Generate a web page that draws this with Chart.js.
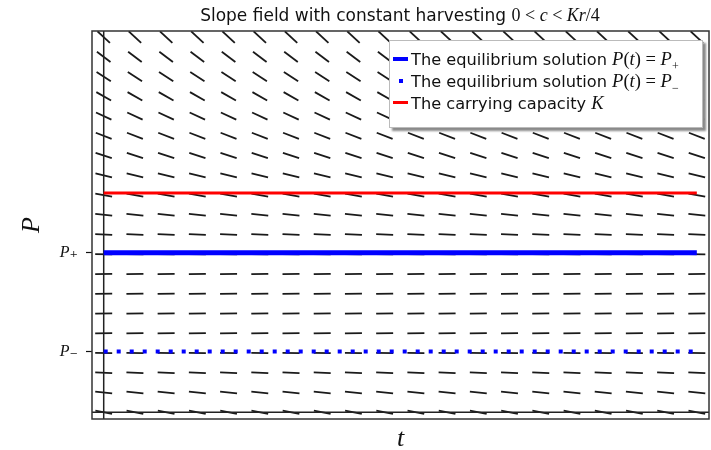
<!DOCTYPE html>
<html>
<head>
<meta charset="utf-8">
<script src="https://cdn.jsdelivr.net/npm/chart.js@4/dist/chart.umd.min.js"></script>
<style>
  html, body { margin: 0; padding: 0; background: #fff; }
  #wrap { position: relative; width: 711px; height: 450px; }
  canvas { position: absolute; left: 0; top: 0; }
  .m { font-family: "Liberation Serif", "DejaVu Serif", serif; }
  .m i { font-style: italic; }
  #title { position: absolute; left: 0; width: 800px; top: 3px; text-align: center; height: 24px; line-height: 24px;
           font-family: "DejaVu Sans", sans-serif; font-size: 17px; color: #111; white-space: nowrap; }
  #title .m { font-size: 18px; }
  #legend { position: absolute; left: 389px; top: 40px; width: 312px; height: 86px;
            background: #fff; border: 1px solid #bbb; box-shadow: 3px 3px 2px #8a8a8a;
            font-family: "DejaVu Sans", sans-serif; font-size: 16.2px; color: #111; }
  #legend .m { font-size: 18.5px; }
  .row { position: absolute; left: 0; height: 20px; line-height: 20px; white-space: nowrap; }
  .row .lbl { position: absolute; left: 21px; top: 0; }
  .h { position: absolute; left: 3px; width: 15px; }
</style>
</head>
<body>
<div id="wrap">
  <canvas id="c" width="711" height="450"></canvas>
  <div id="title">Slope field with constant harvesting <span class="m">0 &lt; <i>c</i> &lt; <i>Kr</i>/4</span></div>
  <div id="legend">
    <div class="row" style="top:8px"><div class="h" style="top:8px;height:4px;background:#0000ff"></div><span class="lbl">The equilibrium solution <span class="m"><i>P</i>(<i>t</i>) = <i>P</i><sub style="font-size:12px">+</sub></span></span></div>
    <div class="row" style="top:30px"><div class="h" style="top:8px;left:9px;width:4px;height:4px;background:#0000ff"></div><span class="lbl">The equilibrium solution <span class="m"><i>P</i>(<i>t</i>) = <i>P</i><sub style="font-size:12px">&minus;</sub></span></span></div>
    <div class="row" style="top:52px"><div class="h" style="top:8px;height:3px;background:#ff0000"></div><span class="lbl">The carrying capacity <span class="m"><i>K</i></span></span></div>
  </div>
</div>
<script>
// ---- data ----
const tValues = [0,1,2,3,4,5,6,7,8,9,10,11,12,13,14,15,16,17,18,19];
const pValues = [0,1,2,3,4,5,6,7,8,9,10,11,12,13,14,15,16,17,18,19];
// slope dP/dt at each P row (same for every t)
const slopes = [-0.31,-0.17,-0.08,-0.01,0.03,0.04,0.04,0.03,-0.01,-0.08,-0.17,-0.28,-0.39,-0.51,-0.61,-0.74,-0.91,-1.03,-1.19,-1.47];
const K = 11.1;
const Pplus = 8.08;
const Pminus = 3.07;
const tRange = [-0.375, 19.39];
const pRange = [-0.344, 19.31];
const tickLabels = { plus: 'P\u208A', minus: 'P\u208B' };

// ---- build datasets ----
const fieldPts = [];
tValues.forEach(t => pValues.forEach((p, i) => fieldPts.push({ x: t, y: p, s: slopes[i] })));
const tFirst = tValues[0], tLast = tValues[tValues.length - 1];

const framePlugin = {
  id: 'frame',
  afterDatasetsDraw(chart) {
    const { ctx, chartArea: a } = chart;
    ctx.save();
    ctx.strokeStyle = '#333';
    ctx.lineWidth = 1.5;
    ctx.strokeRect(a.left, a.top, a.right - a.left, a.bottom - a.top);
    ctx.restore();
  }
};

const chart = new Chart(document.getElementById('c'), {
  type: 'scatter',
  data: {
    datasets: [
      { label: 'P+', data: [{ x: tFirst, y: Pplus }, { x: tLast, y: Pplus }], showLine: true,
        borderColor: '#0000ff', borderWidth: 5, pointRadius: 0, order: 1 },
      { label: 'P-', data: [{ x: tFirst, y: Pminus }, { x: tLast, y: Pminus }], showLine: true,
        borderColor: '#0000ff', borderWidth: 4, borderDash: [4, 9], borderCapStyle: 'butt', pointRadius: 0, order: 1 },
      { label: 'K', data: [{ x: tFirst, y: K }, { x: tLast, y: K }], showLine: true,
        borderColor: '#ff0000', borderWidth: 3, pointRadius: 0, order: 1 },
      { label: 't0', data: [{ x: 0, y: pRange[0] }, { x: 0, y: pRange[1] }], showLine: true,
        borderColor: '#222', borderWidth: 1.5, pointRadius: 0, order: 2 },
      { label: 'p0', data: [{ x: tRange[0], y: 0 }, { x: tRange[1], y: 0 }], showLine: true,
        borderColor: '#222', borderWidth: 1.5, pointRadius: 0, order: 2 },
      { label: 'field', data: fieldPts, showLine: false, order: 3,
        pointStyle: 'line', pointRadius: 8.5, pointHoverRadius: 8.5, pointBorderWidth: 1.8,
        pointBorderColor: '#1a1a1a', pointBackgroundColor: '#1a1a1a',
        pointRotation: (ctx) => {
          const ch = ctx.chart, xs = ch.scales.x, ys = ch.scales.y;
          if (!xs || !ys || !ctx.raw) return 0;
          const pxT = xs.getPixelForValue(1) - xs.getPixelForValue(0);
          const pxP = ys.getPixelForValue(0) - ys.getPixelForValue(1);
          return Math.atan2(-ctx.raw.s * pxP, pxT) * 180 / Math.PI;
        } }
    ]
  },
  options: {
    responsive: false,
    animation: false,
    events: [],
    layout: { autoPadding: false, padding: { top: 31, right: 2, left: 0, bottom: 0 } },
    plugins: { legend: { display: false }, tooltip: { enabled: false }, title: { display: false } },
    scales: {
      x: {
        type: 'linear', min: tRange[0], max: tRange[1],
        ticks: { display: false },
        grid: { display: false },
        border: { display: false },
        title: { display: true, text: 't', color: '#111',
                 font: { family: 'Liberation Serif, DejaVu Serif, serif', style: 'italic', size: 26, lineHeight: 0.8 },
                 padding: { top: 0, bottom: 0 } },
        afterFit(s) { s.height = 31; }
      },
      y: {
        type: 'linear', min: pRange[0], max: pRange[1],
        afterBuildTicks(s) { s.ticks = [{ value: Pminus }, { value: Pplus }]; },
        ticks: {
          color: '#111', padding: 8, autoSkip: false,
          font: { family: 'Liberation Serif, DejaVu Serif, serif', style: 'italic', size: 16 },
          callback: (v) => (Math.abs(v - Pplus) < 1e-6 ? tickLabels.plus : tickLabels.minus)
        },
        grid: { display: true, drawOnChartArea: false, drawTicks: true, tickLength: 6, tickColor: '#111', tickWidth: 1.2 },
        border: { display: false },
        title: { display: true, text: 'P', color: '#111',
                 font: { family: 'Liberation Serif, DejaVu Serif, serif', style: 'italic', size: 26, lineHeight: 1 },
                 padding: { top: 19, bottom: 0 } },
        afterFit(s) { s.width = 92; }
      }
    }
  },
  plugins: [framePlugin]
});
</script>
</body>
</html>
